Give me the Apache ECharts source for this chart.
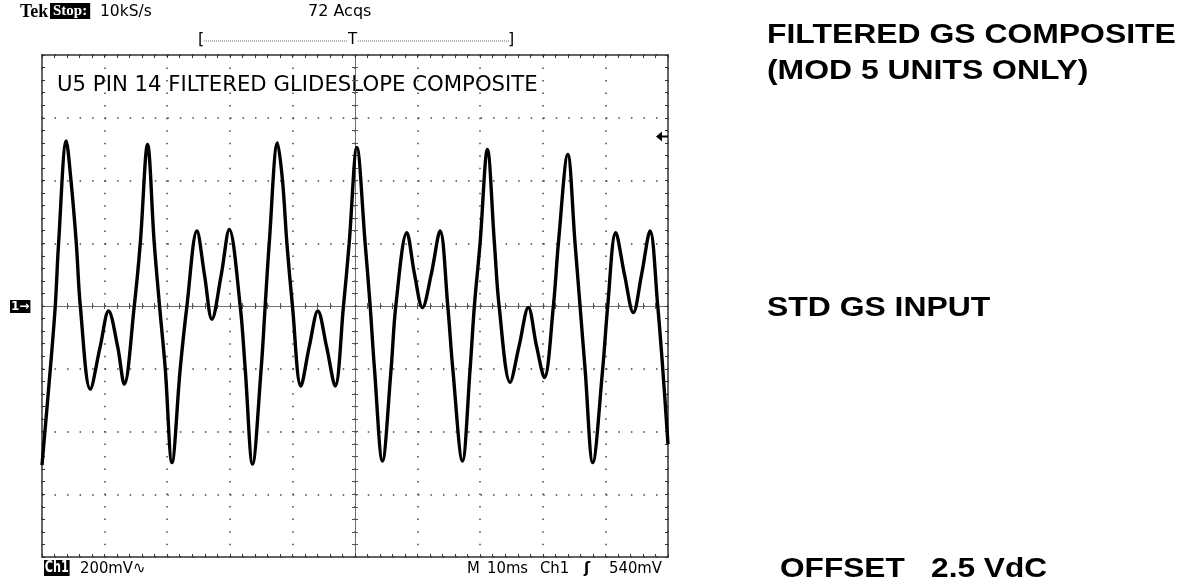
<!DOCTYPE html>
<html><head><meta charset="utf-8">
<script src="https://cdn.jsdelivr.net/npm/echarts/dist/echarts.min.js"></script>
<style>html,body{margin:0;padding:0;background:#fff}#c{width:1186px;height:584px}</style>
</head><body><div id="c"></div>
<script>
// Time in ms (10 ms/div, 10 divisions)
const timeMs = [0,1.33,2.12,2.65,3.88,4.63,5.48,6.12,7.71,9.31,10.63,12.07,13.14,14.74,15.70,16.86,17.93,18.78,19.69,20.76,
  22.08,23.15,24.75,25.96,27.14,28.63,29.91,31.66,32.46,33.63,35.01,35.65,36.30,37.62,38.42,39.12,40.01,41.35,42.71,44.07,
  45.44,46.83,48.16,49.07,50.30,51.62,52.42,53.11,54.38,55.77,56.52,58.28,59.53,60.77,62.16,63.59,64.82,65.62,67.16,68.39,
  69.07,69.98,71.15,72.27,73.02,74.78,76.21,77.69,79.00,80.25,81.69,82.49,83.99,85.15,85.95,86.75,87.98,89.57,90.37,91.65,
  93.06,94.46,95.77,97.13,98.36,99.16,100];
// Ch1 voltage in mV relative to screen centre (200 mV/div)
const ch1mV = [-507,-200,0,200,526,400,200,0,-265,-128,-16,-128,-249,0,200,515,200,0,-200,-499,
  -200,0,239,99,-42,99,244,0,-200,-504,-200,0,200,520,400,200,0,-255,-128,-16,
  -128,-255,0,200,505,200,0,-200,-494,-200,0,234,99,-5,99,239,0,-200,-494,-200,
  0,200,499,200,0,-243,-128,-5,-128,-228,0,200,483,200,0,-200,-499,-200,0,234,
  99,-21,99,239,0,-200,-440];
const triggerLevelMv = [540];
const xRange = [0, 100], xStep = 10;
const yRange = [-800, 800], yStep = 200;
const topTexts = ['Tek', 'Stop:', '10kS/s', '72 Acqs'];
const scopeTitle = 'U5 PIN 14 FILTERED GLIDESLOPE COMPOSITE';
const bottomTexts = ['Ch1', '200mV\u223F', 'M', '10ms', 'Ch1', '\u0283', '540mV'];
const sideNotes = ['FILTERED GS COMPOSITE', '(MOD 5 UNITS ONLY)', 'STD GS INPUT', 'OFFSET   2.5 VdC'];

const seriesData = timeMs.map((t, i) => [t, ch1mV[i]]);
const GRID = {left: 42, top: 55, width: 626, height: 502};
const dots = {show: true, lineStyle: {color: '#444', width: 1.5, type: [1.5, 11.03]}};
const borderLine = {show: true, onZero: false, lineStyle: {color: '#333', width: 1.5}};
const tick = {show: true, inside: true, length: 3, lineStyle: {color: '#333', width: 1}};
const minor = {show: true, splitNumber: 5, length: 3, lineStyle: {color: '#333', width: 1}};
const centreLine = {show: true, onZero: true, lineStyle: {color: '#666', width: 1, type: [1, 1]}};
const cTick = {show: true, inside: true, length: 3, lineStyle: {color: '#555', width: 1}};
const cMinor = {show: true, splitNumber: 5, length: 3, lineStyle: {color: '#555', width: 1}};
const noLabel = {show: false};

const sans = '"DejaVu Sans"';
const cond = '"DejaVu Sans Condensed", "DejaVu Sans"';
const bold = '"Liberation Sans", Arial, sans-serif';

function txt(x, y, text, font, extra) {
  return {type: 'text', x: x, y: y, style: Object.assign({text: text, font: font, fill: '#000', verticalAlign: 'top'}, extra || {})};
}
function stxt(x, y, sx, text, font, extra) {
  const el = txt(x, y, text, font, extra);
  el.scaleX = sx;
  return el;
}

const option = {
  animation: false,
  backgroundColor: '#fff',
  grid: [Object.assign({}, GRID), Object.assign({}, GRID)],
  xAxis: [
    {gridIndex: 0, type: 'value', min: xRange[0], max: xRange[1], interval: xStep, position: 'bottom',
      axisLine: borderLine, axisTick: tick, minorTick: minor, axisLabel: noLabel, splitLine: dots},
    {gridIndex: 0, type: 'value', min: xRange[0], max: xRange[1], interval: xStep, position: 'top',
      axisLine: borderLine, axisTick: tick, minorTick: minor, axisLabel: noLabel, splitLine: {show: false}},
    {gridIndex: 1, type: 'value', min: -50, max: 50, interval: xStep, position: 'bottom',
      axisLine: centreLine, axisTick: cTick, minorTick: cMinor, axisLabel: noLabel, splitLine: {show: false}},
    {gridIndex: 1, type: 'value', min: -50, max: 50, interval: xStep, position: 'top',
      axisLine: centreLine, axisTick: cTick, minorTick: cMinor, axisLabel: noLabel, splitLine: {show: false}}
  ],
  yAxis: [
    {gridIndex: 0, type: 'value', min: yRange[0], max: yRange[1], interval: yStep, position: 'left',
      axisLine: borderLine, axisTick: tick, minorTick: minor, axisLabel: noLabel, splitLine: dots},
    {gridIndex: 0, type: 'value', min: yRange[0], max: yRange[1], interval: yStep, position: 'right',
      axisLine: borderLine, axisTick: tick, minorTick: minor, axisLabel: noLabel, splitLine: {show: false}},
    {gridIndex: 1, type: 'value', min: yRange[0], max: yRange[1], interval: yStep, position: 'left',
      axisLine: centreLine, axisTick: cTick, minorTick: cMinor, axisLabel: noLabel, splitLine: {show: false}},
    {gridIndex: 1, type: 'value', min: yRange[0], max: yRange[1], interval: yStep, position: 'right',
      axisLine: centreLine, axisTick: cTick, minorTick: cMinor, axisLabel: noLabel, splitLine: {show: false}}
  ],
  series: [{
    type: 'line', xAxisIndex: 0, yAxisIndex: 0, data: seriesData, smooth: 0.35,
    showSymbol: false, clip: true, z: 5,
    lineStyle: {color: '#000', width: 3.4},
    markPoint: {
      silent: true, label: {show: false},
      symbol: 'path://M0,5 L6,0 L6,4 L12,4 L12,6 L6,6 L6,10 Z', symbolSize: [12, 10], symbolOffset: [-6, 0],
      itemStyle: {color: '#000'},
      data: [{coord: [xRange[1], triggerLevelMv[0]]}]
    }
  }],
  graphic: [
    txt(20, 3, topTexts[0], 'bold 18px "Liberation Serif"'),
    txt(50, 3, topTexts[1], 'bold 15px "Liberation Serif"', {fill: '#fff', backgroundColor: '#000', padding: [1, 3, 0, 3]}),
    txt(100, 4, topTexts[2], '15.5px ' + sans),
    txt(308, 4, topTexts[3], '16px ' + sans),
    txt(198, 32, '[', '16px ' + sans),
    txt(508, 32, ']', '16px ' + sans),
    {type: 'line', shape: {x1: 204, y1: 41, x2: 510, y2: 41}, style: {stroke: '#666', lineWidth: 1, lineDash: [1, 1]}},
    txt(348, 33, 'T', '15px ' + sans, {backgroundColor: '#fff'}),
    stxt(57, 75, 1.012, scopeTitle, '21px ' + sans),
    txt(10, 300, '1\u2192', 'bold 12px ' + sans, {fill: '#fff', backgroundColor: '#000', padding: [1, 1, 0, 1]}),
    stxt(44, 560, 0.78, bottomTexts[0], 'bold 16px ' + cond, {fill: '#fff', backgroundColor: '#000', padding: [0, 1, 0, 1]}),
    txt(80, 560, bottomTexts[1], '16.5px ' + cond),
    txt(467, 560, bottomTexts[2], '16.5px ' + cond),
    txt(487, 560, bottomTexts[3], '16.5px ' + cond),
    txt(540, 560, bottomTexts[4], '16.5px ' + cond),
    txt(584, 560, bottomTexts[5], 'bold 16.5px ' + cond),
    txt(609, 560, bottomTexts[6], '16.5px ' + cond),
    stxt(767, 21, 1.16, sideNotes[0], 'bold 27.5px ' + bold),
    stxt(767, 57, 1.16, sideNotes[1], 'bold 27.5px ' + bold),
    stxt(767, 294, 1.16, sideNotes[2], 'bold 27.5px ' + bold),
    stxt(780, 555, 1.15, sideNotes[3], 'bold 27.5px ' + bold)
  ]
};
echarts.init(document.getElementById('c'), null, {renderer: 'canvas'}).setOption(option);
</script>
</body></html>
